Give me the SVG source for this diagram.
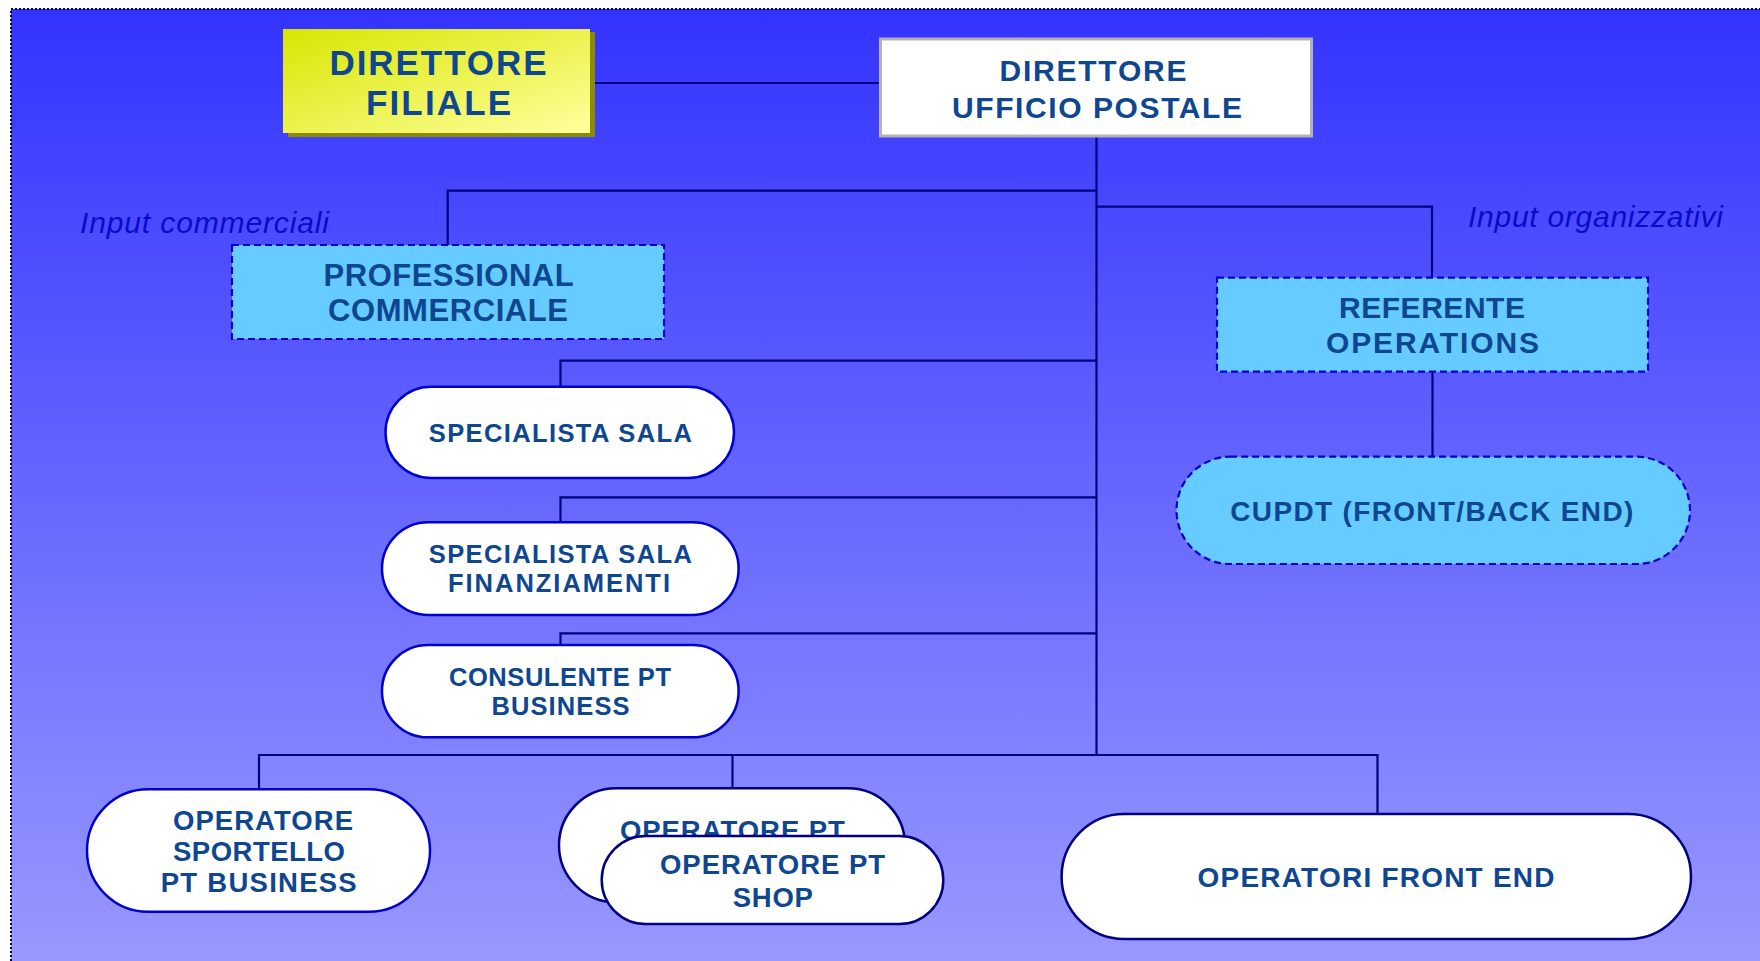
<svg xmlns="http://www.w3.org/2000/svg" width="1760" height="961" viewBox="0 0 1760 961">
<defs>
<linearGradient id="bg" x1="0" y1="0" x2="0" y2="1">
<stop offset="0" stop-color="#3333ff"/>
<stop offset="1" stop-color="#9999ff"/>
</linearGradient>
<linearGradient id="yel" x1="0" y1="0" x2="1" y2="1">
<stop offset="0" stop-color="#d8e600"/>
<stop offset="1" stop-color="#ffff9e"/>
</linearGradient>
<style>
.lbl{font-family:"Liberation Sans",Arial,sans-serif;font-weight:bold;fill:#0e4690;text-anchor:middle}
.it{font-family:"Liberation Sans",Arial,sans-serif;font-style:italic;fill:#0a0acc;font-size:30px}
.con{stroke:#000080;stroke-width:2.2;fill:none}
.pill{fill:#ffffff;stroke:#0000cc;stroke-width:2.5}
.pilln{fill:#ffffff;stroke:#000080;stroke-width:2.5}
.dash{fill:#66ccff;stroke:#0000cc;stroke-width:2.2;stroke-dasharray:7 4}
</style>
</defs>
<rect x="0" y="0" width="1760" height="961" fill="#ffffff"/>
<rect x="11" y="9" width="1760" height="960" fill="url(#bg)" stroke="#000066" stroke-width="2" stroke-dasharray="2 2"/>

<g id="connectors">
<path class="con" d="M589 83H879"/>
<path class="con" d="M1096.5 137V755"/>
<path class="con" d="M1096.5 190.7H447.7V245"/>
<path class="con" d="M1096.5 206.7H1432V277.7"/>
<path class="con" d="M1432.5 371.7V456.7"/>
<path class="con" d="M1096.5 360.7H560.5V386.7"/>
<path class="con" d="M1096.5 497.3H560.5V522.3"/>
<path class="con" d="M1096.5 633.3H560.5V645"/>
<path class="con" d="M259 789.3V755H1377.5V814"/>
<path class="con" d="M732.5 755V788.3"/>
</g>

<g id="direttore-filiale">
<rect x="288" y="32" width="307" height="105" fill="#8c8c00"/>
<rect x="283" y="29" width="307" height="104" fill="url(#yel)"/>
<text class="lbl" font-size="35" x="438" y="75" textLength="217" lengthAdjust="spacing">DIRETTORE</text>
<text class="lbl" font-size="35" x="438.5" y="115" textLength="145" lengthAdjust="spacing">FILIALE</text>
</g>

<g id="direttore-ufficio-postale">
<rect x="880.5" y="39" width="431" height="97" fill="#ffffff" stroke="#b3b3b3" stroke-width="3"/>
<text class="lbl" font-size="30" x="1093" y="81" textLength="187" lengthAdjust="spacing">DIRETTORE</text>
<text class="lbl" font-size="30" x="1097" y="118" textLength="290" lengthAdjust="spacing">UFFICIO POSTALE</text>
</g>

<g id="input-commerciali">
<text class="it" x="80" y="233" textLength="249" lengthAdjust="spacing">Input commerciali</text>
</g>

<g id="input-organizzativi">
<text class="it" x="1468" y="227" textLength="255" lengthAdjust="spacing">Input organizzativi</text>
</g>

<g id="professional-commerciale">
<rect class="dash" x="232" y="245" width="432" height="94"/>
<text class="lbl" font-size="31" x="448.6" y="286" textLength="250" lengthAdjust="spacing">PROFESSIONAL</text>
<text class="lbl" font-size="31" x="448" y="321" textLength="240" lengthAdjust="spacing">COMMERCIALE</text>
</g>

<g id="referente-operations">
<rect class="dash" x="1217" y="277.7" width="431" height="94"/>
<text class="lbl" font-size="30" x="1432" y="317.7" textLength="186" lengthAdjust="spacing">REFERENTE</text>
<text class="lbl" font-size="30" x="1432.5" y="352.7" textLength="213" lengthAdjust="spacing">OPERATIONS</text>
</g>

<g id="cupdt">
<rect class="dash" x="1176.5" y="456.7" width="513.5" height="107.3" rx="53.6"/>
<text class="lbl" font-size="28" x="1431.8" y="521" textLength="403" lengthAdjust="spacing">CUPDT (FRONT/BACK END)</text>
</g>

<g id="specialista-sala">
<rect class="pill" x="385.5" y="386.7" width="348.5" height="91.3" rx="45.6"/>
<text class="lbl" font-size="25.5" x="560.3" y="441.7" textLength="263" lengthAdjust="spacing">SPECIALISTA SALA</text>
</g>

<g id="specialista-sala-finanziamenti">
<rect class="pill" x="382" y="522.3" width="356.6" height="92.7" rx="46.3"/>
<text class="lbl" font-size="25.5" x="560.3" y="563.3" textLength="263" lengthAdjust="spacing">SPECIALISTA SALA</text>
<text class="lbl" font-size="25.5" x="559" y="592.3" textLength="222" lengthAdjust="spacing">FINANZIAMENTI</text>
</g>

<g id="consulente-pt-business">
<rect class="pill" x="382" y="645" width="356.6" height="92.3" rx="46.1"/>
<text class="lbl" font-size="25.5" x="560" y="685.7" textLength="222" lengthAdjust="spacing">CONSULENTE PT</text>
<text class="lbl" font-size="25.5" x="560.5" y="715" textLength="138" lengthAdjust="spacing">BUSINESS</text>
</g>

<g id="operatore-sportello-pt-business">
<rect class="pill" x="87" y="789.3" width="343" height="122.4" rx="61"/>
<text class="lbl" font-size="27.5" x="263" y="830" textLength="180" lengthAdjust="spacing">OPERATORE</text>
<text class="lbl" font-size="27.5" x="259" y="860.7" textLength="172" lengthAdjust="spacing">SPORTELLO</text>
<text class="lbl" font-size="27.5" x="258.7" y="892.3" textLength="196" lengthAdjust="spacing">PT BUSINESS</text>
</g>

<g id="operatore-pt">
<rect class="pilln" x="559" y="788.3" width="346" height="114" rx="57"/>
<text class="lbl" font-size="27.5" x="732.4" y="839.5" textLength="225" lengthAdjust="spacing">OPERATORE PT</text>
</g>

<g id="operatore-pt-shop">
<rect class="pilln" x="601.7" y="836" width="341.6" height="88" rx="44"/>
<text class="lbl" font-size="27.5" x="772.5" y="874" textLength="225" lengthAdjust="spacing">OPERATORE PT</text>
<text class="lbl" font-size="27.5" x="772.8" y="906.7" textLength="80" lengthAdjust="spacing">SHOP</text>
</g>

<g id="operatori-front-end">
<rect class="pilln" x="1061.6" y="814" width="629.4" height="125" rx="62.5"/>
<text class="lbl" font-size="28" x="1376" y="886.7" textLength="357" lengthAdjust="spacing">OPERATORI FRONT END</text>
</g>
</svg>
